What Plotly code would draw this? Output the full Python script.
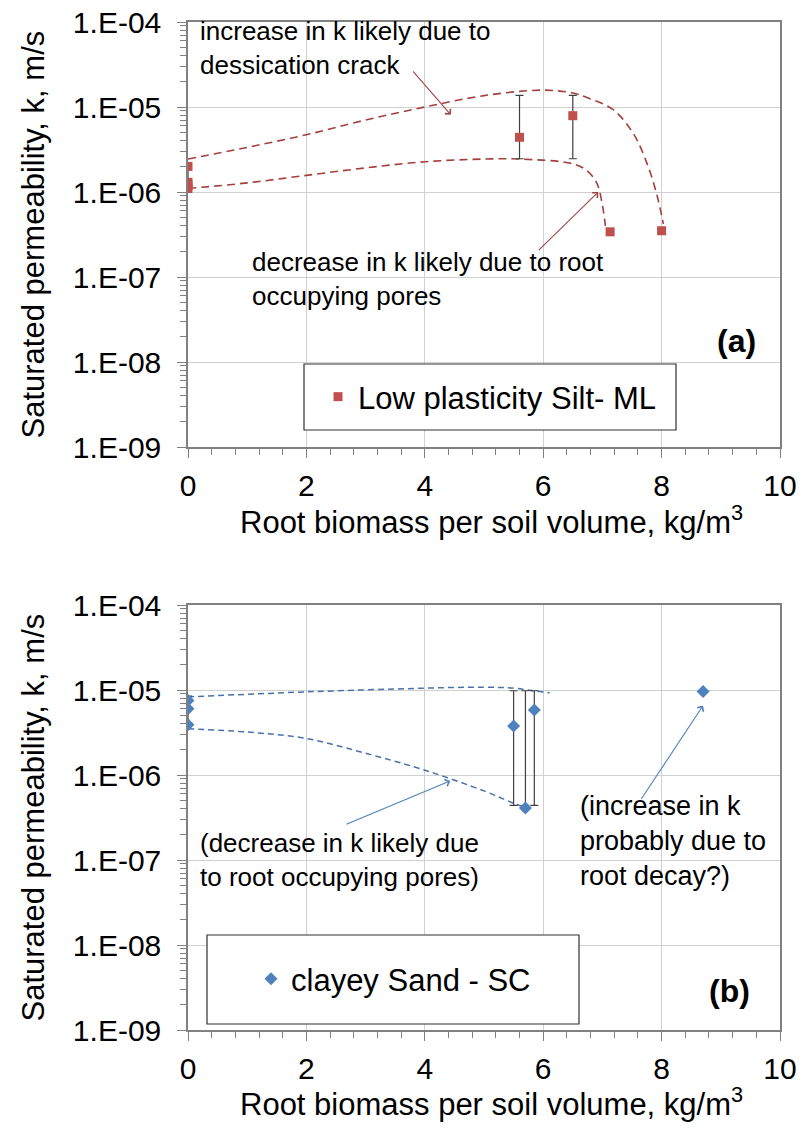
import math
import plotly.graph_objects as go

# ---------------- data ----------------
# Panel (a): low plasticity silt (ML)
silt_biomass = [0, 0, 0, 0, 5.6, 6.5, 7.13, 8.0]
silt_k = [2.0e-6, 1.3e-6, 1.2e-6, 1.1e-6, 4.4e-6, 7.9e-6, 3.4e-7, 3.5e-7]
silt_k_hi = [2.0e-6, 2.0e-6, 1.2e-6, 1.1e-6, 1.37e-5, 1.37e-5, 3.6e-7, 3.6e-7]
silt_k_lo = [2.0e-6, 1.1e-6, 1.2e-6, 1.1e-6, 2.46e-6, 2.46e-6, 3.4e-7, 3.5e-7]

# hand-drawn envelope curves for panel (a)
silt_upper_x = [0, 1, 2, 3, 4, 5, 6, 6.5, 6.73, 7.18, 7.52, 7.75, 7.92, 8.03]
silt_upper_k = [2.44e-6, 3.35e-6, 4.72e-6, 7.03e-6, 1.0e-5, 1.36e-5, 1.58e-5,
                1.46e-5, 1.30e-5, 9.3e-6, 4.9e-6, 2.2e-6, 9.3e-7, 4.2e-7]
silt_lower_x = [0, 1, 2, 3, 4, 5, 5.6, 6.5, 6.73, 6.9, 6.99, 7.05]
silt_lower_k = [1.10e-6, 1.28e-6, 1.57e-6, 1.92e-6, 2.27e-6, 2.44e-6, 2.44e-6,
                2.15e-6, 1.8e-6, 1.3e-6, 7.7e-7, 4.0e-7]

# Panel (b): clayey sand (SC)
sand_biomass = [0, 0, 0, 5.5, 5.7, 5.85, 8.7]
sand_k = [7.5e-6, 6.0e-6, 3.9e-6, 3.76e-6, 4.1e-7, 5.8e-6, 9.6e-6]
sand_k_hi = [7.5e-6, 8.5e-6, 3.9e-6, 9.8e-6, 9.8e-6, 9.8e-6, 9.6e-6]
sand_k_lo = [7.5e-6, 3.9e-6, 3.9e-6, 4.4e-7, 4.1e-7, 4.4e-7, 9.6e-6]

# hand-drawn envelope curves for panel (b)
sand_upper_x = [0, 2, 4, 5, 5.52, 5.74, 6.11]
sand_upper_k = [8.3e-6, 9.5e-6, 1.05e-5, 1.08e-5, 1.05e-5, 1.0e-5, 9.3e-6]
sand_lower_x = [0, 1, 2, 3, 4, 5, 5.52, 5.69]
sand_lower_k = [3.5e-6, 3.2e-6, 2.69e-6, 1.8e-6, 1.14e-6, 6.5e-7, 4.6e-7, 4.2e-7]

x_ticks = [0, 2, 4, 6, 8, 10]
y_ticks = [1e-9, 1e-8, 1e-7, 1e-6, 1e-5, 1e-4]
y_ticktext = ["1.E-09", "1.E-08", "1.E-07", "1.E-06", "1.E-05", "1.E-04"]

# ---------------- styling ----------------
FONT = "Liberation Sans, Arial, Helvetica, sans-serif"
RED = "#C0504D"
RED_LINE = "#A3403D"
BLUE = "#4F81BD"
BLUE_LINE = "#4A70A8"
AXIS_GRAY = "#808080"
GRID = "#D0D0D0"

W, H = 801, 1140


def px(x):
    return x / W


def py(y):
    return 1 - y / H


PLOT_L, PLOT_R = 188, 780
PANELS = {"a": (22, 447), "b": (605, 1030)}
XTITLE_Y = {"a": 520, "b": 1102}

fig = go.Figure()


def errs(k, hi, lo):
    return [h - v for h, v in zip(hi, k)], [v - l for v, l in zip(k, lo)]


# panel (a) traces
plus, minus = errs(silt_k, silt_k_hi, silt_k_lo)
fig.add_trace(go.Scatter(x=silt_upper_x, y=silt_upper_k, mode="lines",
                         line=dict(color=RED_LINE, width=1.6, dash="8px,5px",
                                   shape="spline", smoothing=1.0),
                         showlegend=False, xaxis="x", yaxis="y"))
fig.add_trace(go.Scatter(x=silt_lower_x, y=silt_lower_k, mode="lines",
                         line=dict(color=RED_LINE, width=1.6, dash="8px,5px",
                                   shape="spline", smoothing=1.0),
                         showlegend=False, xaxis="x", yaxis="y"))
fig.add_trace(go.Scatter(x=silt_biomass, y=silt_k, mode="markers",
                         name="Low plasticity Silt- ML",
                         marker=dict(symbol="square", size=9, color=RED),
                         error_y=dict(type="data", symmetric=False, array=plus,
                                      arrayminus=minus, color="#404040",
                                      thickness=1.2, width=4),
                         xaxis="x", yaxis="y", legend="legend"))

# panel (b) traces
plus, minus = errs(sand_k, sand_k_hi, sand_k_lo)
fig.add_trace(go.Scatter(x=sand_upper_x, y=sand_upper_k, mode="lines",
                         line=dict(color=BLUE_LINE, width=1.5, dash="6px,4px",
                                   shape="spline", smoothing=1.0),
                         showlegend=False, xaxis="x2", yaxis="y2"))
fig.add_trace(go.Scatter(x=sand_lower_x, y=sand_lower_k, mode="lines",
                         line=dict(color=BLUE_LINE, width=1.5, dash="6px,4px",
                                   shape="spline", smoothing=1.0),
                         showlegend=False, xaxis="x2", yaxis="y2"))
fig.add_trace(go.Scatter(x=sand_biomass, y=sand_k, mode="markers",
                         name="clayey Sand - SC",
                         marker=dict(symbol="diamond", size=10, color=BLUE),
                         error_y=dict(type="data", symmetric=False, array=plus,
                                      arrayminus=minus, color="#404040",
                                      thickness=1.2, width=4),
                         xaxis="x2", yaxis="y2", legend="legend2"))

minor_y = [m * 10.0 ** e for e in range(-9, -4) for m in range(2, 10)]


def xaxis_cfg(anchor):
    return dict(domain=[px(PLOT_L), px(PLOT_R)], anchor=anchor, range=[0, 10],
                automargin=False,
                tickmode="array", tickvals=x_ticks, ticks="outside", ticklen=9,
                tickcolor=AXIS_GRAY, tickwidth=1.2, ticklabelstandoff=2,
                tickfont=dict(size=30, color="black", family=FONT),
                showgrid=True, gridcolor=GRID, gridwidth=1.2, zeroline=False,
                showline=True, linecolor=AXIS_GRAY, linewidth=1.5, mirror=True,
                minor=dict(tickmode="linear", tick0=0, dtick=0.4, ticks="outside",
                           ticklen=6, tickcolor=AXIS_GRAY, showgrid=False))


def yaxis_cfg(top, bottom, anchor):
    return dict(domain=[py(bottom), py(top)], anchor=anchor, type="log",
                range=[-9, -4], automargin=False,
                tickmode="array", tickvals=y_ticks,
                ticktext=y_ticktext, ticks="outside", ticklen=9,
                tickcolor=AXIS_GRAY, tickwidth=1.2, ticklabelstandoff=10,
                tickfont=dict(size=30, color="black", family=FONT),
                showgrid=True, gridcolor=GRID, gridwidth=1.2, zeroline=False,
                showline=True, linecolor=AXIS_GRAY, linewidth=1.5, mirror=True,
                minor=dict(tickmode="array", tickvals=minor_y, ticks="outside",
                           ticklen=6, tickcolor=AXIS_GRAY, showgrid=False))


ta, ba = PANELS["a"]
tb, bb = PANELS["b"]

L = math.log10
annotations = []


def note(text, x, k, xref, yref, size=26, color="black", bold=False,
         xanchor="left"):
    if bold:
        text = "<b>" + text + "</b>"
    annotations.append(dict(text=text, x=x, y=L(k), xref=xref, yref=yref,
                            xanchor=xanchor, yanchor="middle", align="left",
                            showarrow=False,
                            font=dict(size=size, color=color, family=FONT)))


def arrow(x0, k0, x1, k1, xref, yref, color):
    annotations.append(dict(text="", x=x1, y=L(k1), ax=x0, ay=L(k0),
                            xref=xref, yref=yref, axref=xref, ayref=yref,
                            showarrow=True, arrowhead=4, arrowsize=1.3,
                            arrowwidth=1.1, arrowcolor=color))


# panel (a) notes
note("increase in k likely due to<br>dessication crack", 0.17, 10 ** -4.31, "x", "y")
arrow(3.78, 10 ** -4.563, 4.44, 10 ** -5.092, "x", "y", "#A04545")
note("decrease in k likely due to root<br>occupying pores", 1.05, 10 ** -7.02, "x", "y")
arrow(5.9, 10 ** -6.70, 6.93, 1e-6, "x", "y", "#A04545")
note("(a)", 9.26, 10 ** -7.75, "x", "y", size=32, bold=True, xanchor="center")

# panel (b) notes
note("(decrease in k likely due<br>to root occupying pores)", 0.17, 1e-7, "x2", "y2")
arrow(2.65, 10 ** -6.586, 4.43, 10 ** -6.07, "x2", "y2", BLUE)
note("(increase in k<br>probably due to<br>root decay?)", 6.59, 10 ** -6.78, "x2", "y2",
     size=27)
arrow(7.64, 10 ** -6.30, 8.70, 10 ** -5.184, "x2", "y2", BLUE)
note("(b)", 9.15, 10 ** -8.54, "x2", "y2", size=32, bold=True, xanchor="center")

# axis titles
for (top, bottom), xt in ((PANELS["a"], XTITLE_Y["a"]), (PANELS["b"], XTITLE_Y["b"])):
    annotations.append(dict(text="Saturated permeability, k, m/s", textangle=-90,
                            x=px(33), y=py((top + bottom) / 2), xref="paper",
                            yref="paper", xanchor="center", yanchor="middle",
                            showarrow=False,
                            font=dict(size=31, color="black", family=FONT)))
    annotations.append(dict(text="Root biomass per soil volume, kg/m<sup>3</sup>",
                            x=px(492), y=py(xt), xref="paper", yref="paper",
                            xanchor="center", yanchor="middle", showarrow=False,
                            font=dict(size=31, color="black", family=FONT)))

# legend frames
shapes = []
for (x0, y0, x1, y1) in ((304, 364, 676, 430), (207, 935, 579, 1024)):
    shapes.append(dict(type="rect", xref="paper", yref="paper",
                       x0=px(x0), x1=px(x1), y0=py(y1), y1=py(y0),
                       fillcolor="white", line=dict(color="#303030", width=1.2),
                       layer="above"))

fig.update_layout(
    width=W, height=H,
    margin=dict(l=0, r=0, t=0, b=0, pad=0),
    paper_bgcolor="white", plot_bgcolor="white",
    font=dict(family=FONT, color="black"),
    xaxis=xaxis_cfg("y"),
    yaxis=yaxis_cfg(ta, ba, "x"),
    xaxis2=xaxis_cfg("y2"),
    yaxis2=yaxis_cfg(tb, bb, "x2"),
    annotations=annotations,
    shapes=shapes,
    legend=dict(x=px(318), y=py(397), xanchor="left", yanchor="middle",
                bgcolor="rgba(0,0,0,0)", borderwidth=0,
                font=dict(size=31, color="black", family=FONT)),
    legend2=dict(x=px(251), y=py(979), xanchor="left", yanchor="middle",
                 bgcolor="rgba(0,0,0,0)", borderwidth=0,
                 font=dict(size=31, color="black", family=FONT)),
    showlegend=True,
)

# page body without default margin so the figure sits at the window origin
fig.write_html("out.html",
               post_script="document.body.style.margin='0';"
                           "document.body.style.overflow='hidden';")
